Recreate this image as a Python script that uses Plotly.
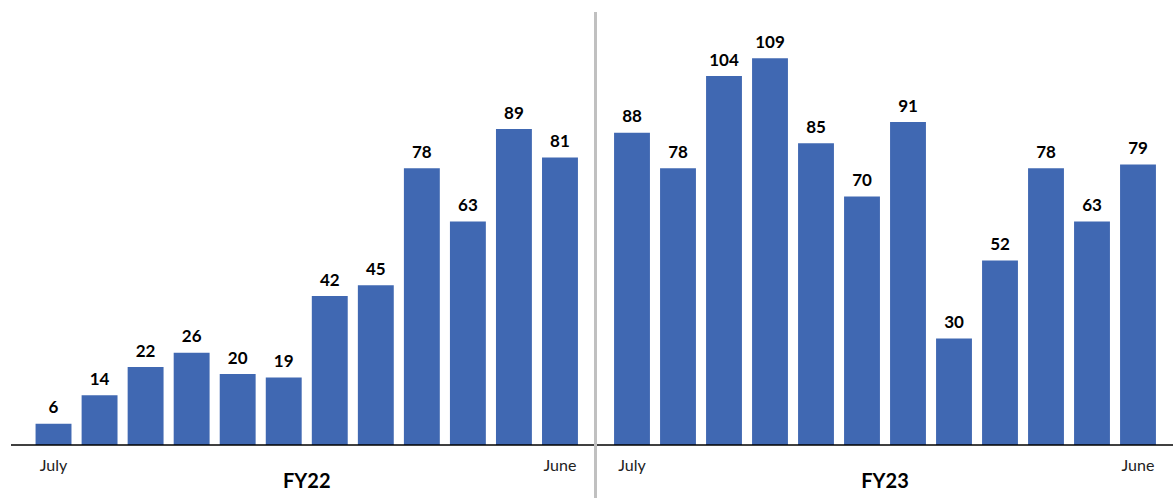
import plotly.graph_objects as go

# month slots for each fiscal year (July .. June)
months = ['Jul', 'Aug', 'Sep', 'Oct', 'Nov', 'Dec', 'Jan', 'Feb', 'Mar', 'Apr', 'May', 'Jun']
fy22_values = [6, 14, 22, 26, 20, 19, 42, 45, 78, 63, 89, 81]
fy23_values = [88, 78, 104, 109, 85, 70, 91, 30, 52, 78, 63, 79]
tick_months = ['Jul', 'Jun']
tick_labels = ['July', 'June']
year_titles = ['FY22', 'FY23']

BAR_COLOR = '#4068B2'
FONT = 'Lato, Open Sans, sans-serif'

W, H = 1173, 498

fig = go.Figure()

for vals, axis in [(fy22_values, 'x'), (fy23_values, 'x2')]:
    fig.add_trace(
        go.Bar(
            x=months,
            y=vals,
            xaxis=axis,
            yaxis='y',
            marker=dict(color=BAR_COLOR, line=dict(width=0)),
            showlegend=False,
            hoverinfo='skip',
        )
    )
    # value labels, lifted a bit above the bar tops by an invisible marker
    fig.add_trace(
        go.Scatter(
            x=months,
            y=vals,
            xaxis=axis,
            yaxis='y',
            mode='markers+text',
            text=[str(v) for v in vals],
            textposition='top center',
            marker=dict(size=8, opacity=0),
            textfont=dict(family=FONT, size=17, color='black', weight='bold'),
            cliponaxis=False,
            showlegend=False,
            hoverinfo='skip',
        )
    )

xaxis_common = dict(
    type='category',
    categoryorder='array',
    categoryarray=months,
    range=[-0.5, 11.5],
    tickmode='array',
    tickvals=tick_months,
    ticktext=tick_labels,
    ticks='',
    showgrid=False,
    zeroline=False,
    showline=False,
    tickfont=dict(family=FONT, size=16, color='#222222'),
    ticklabelstandoff=9,
    fixedrange=True,
)

title_font = dict(family=FONT, size=20, color='black', weight='bold')

fig.update_layout(
    width=W,
    height=H,
    margin=dict(l=0, r=0, t=12, b=53),
    paper_bgcolor='white',
    plot_bgcolor='white',
    bargap=0.22,
    xaxis=dict(
        **xaxis_common,
        domain=[30.5 / W, 583 / W],
        anchor='y',
        title=dict(text=year_titles[0], font=title_font, standoff=0),
    ),
    xaxis2=dict(
        **xaxis_common,
        domain=[609 / W, 1161 / W],
        anchor='y',
        title=dict(text=year_titles[1], font=title_font, standoff=0),
    ),
    yaxis=dict(
        range=[0, 122],
        visible=False,
        showgrid=False,
        zeroline=False,
        fixedrange=True,
    ),
)

# baseline
fig.add_shape(
    type='line', xref='paper', yref='paper',
    x0=11 / W, x1=1, y0=0, y1=0,
    line=dict(color='black', width=1.5),
)
# divider between the two fiscal years
fig.add_shape(
    type='line', xref='paper', yref='paper',
    x0=595.5 / W, x1=595.5 / W, y0=-53 / 433, y1=1,
    line=dict(color='#C0C0C0', width=3),
)

fig.write_html(
    "out.html",
    config={'displayModeBar': False},
    post_script="document.body.style.margin='0';document.body.style.overflow='hidden';",
)
